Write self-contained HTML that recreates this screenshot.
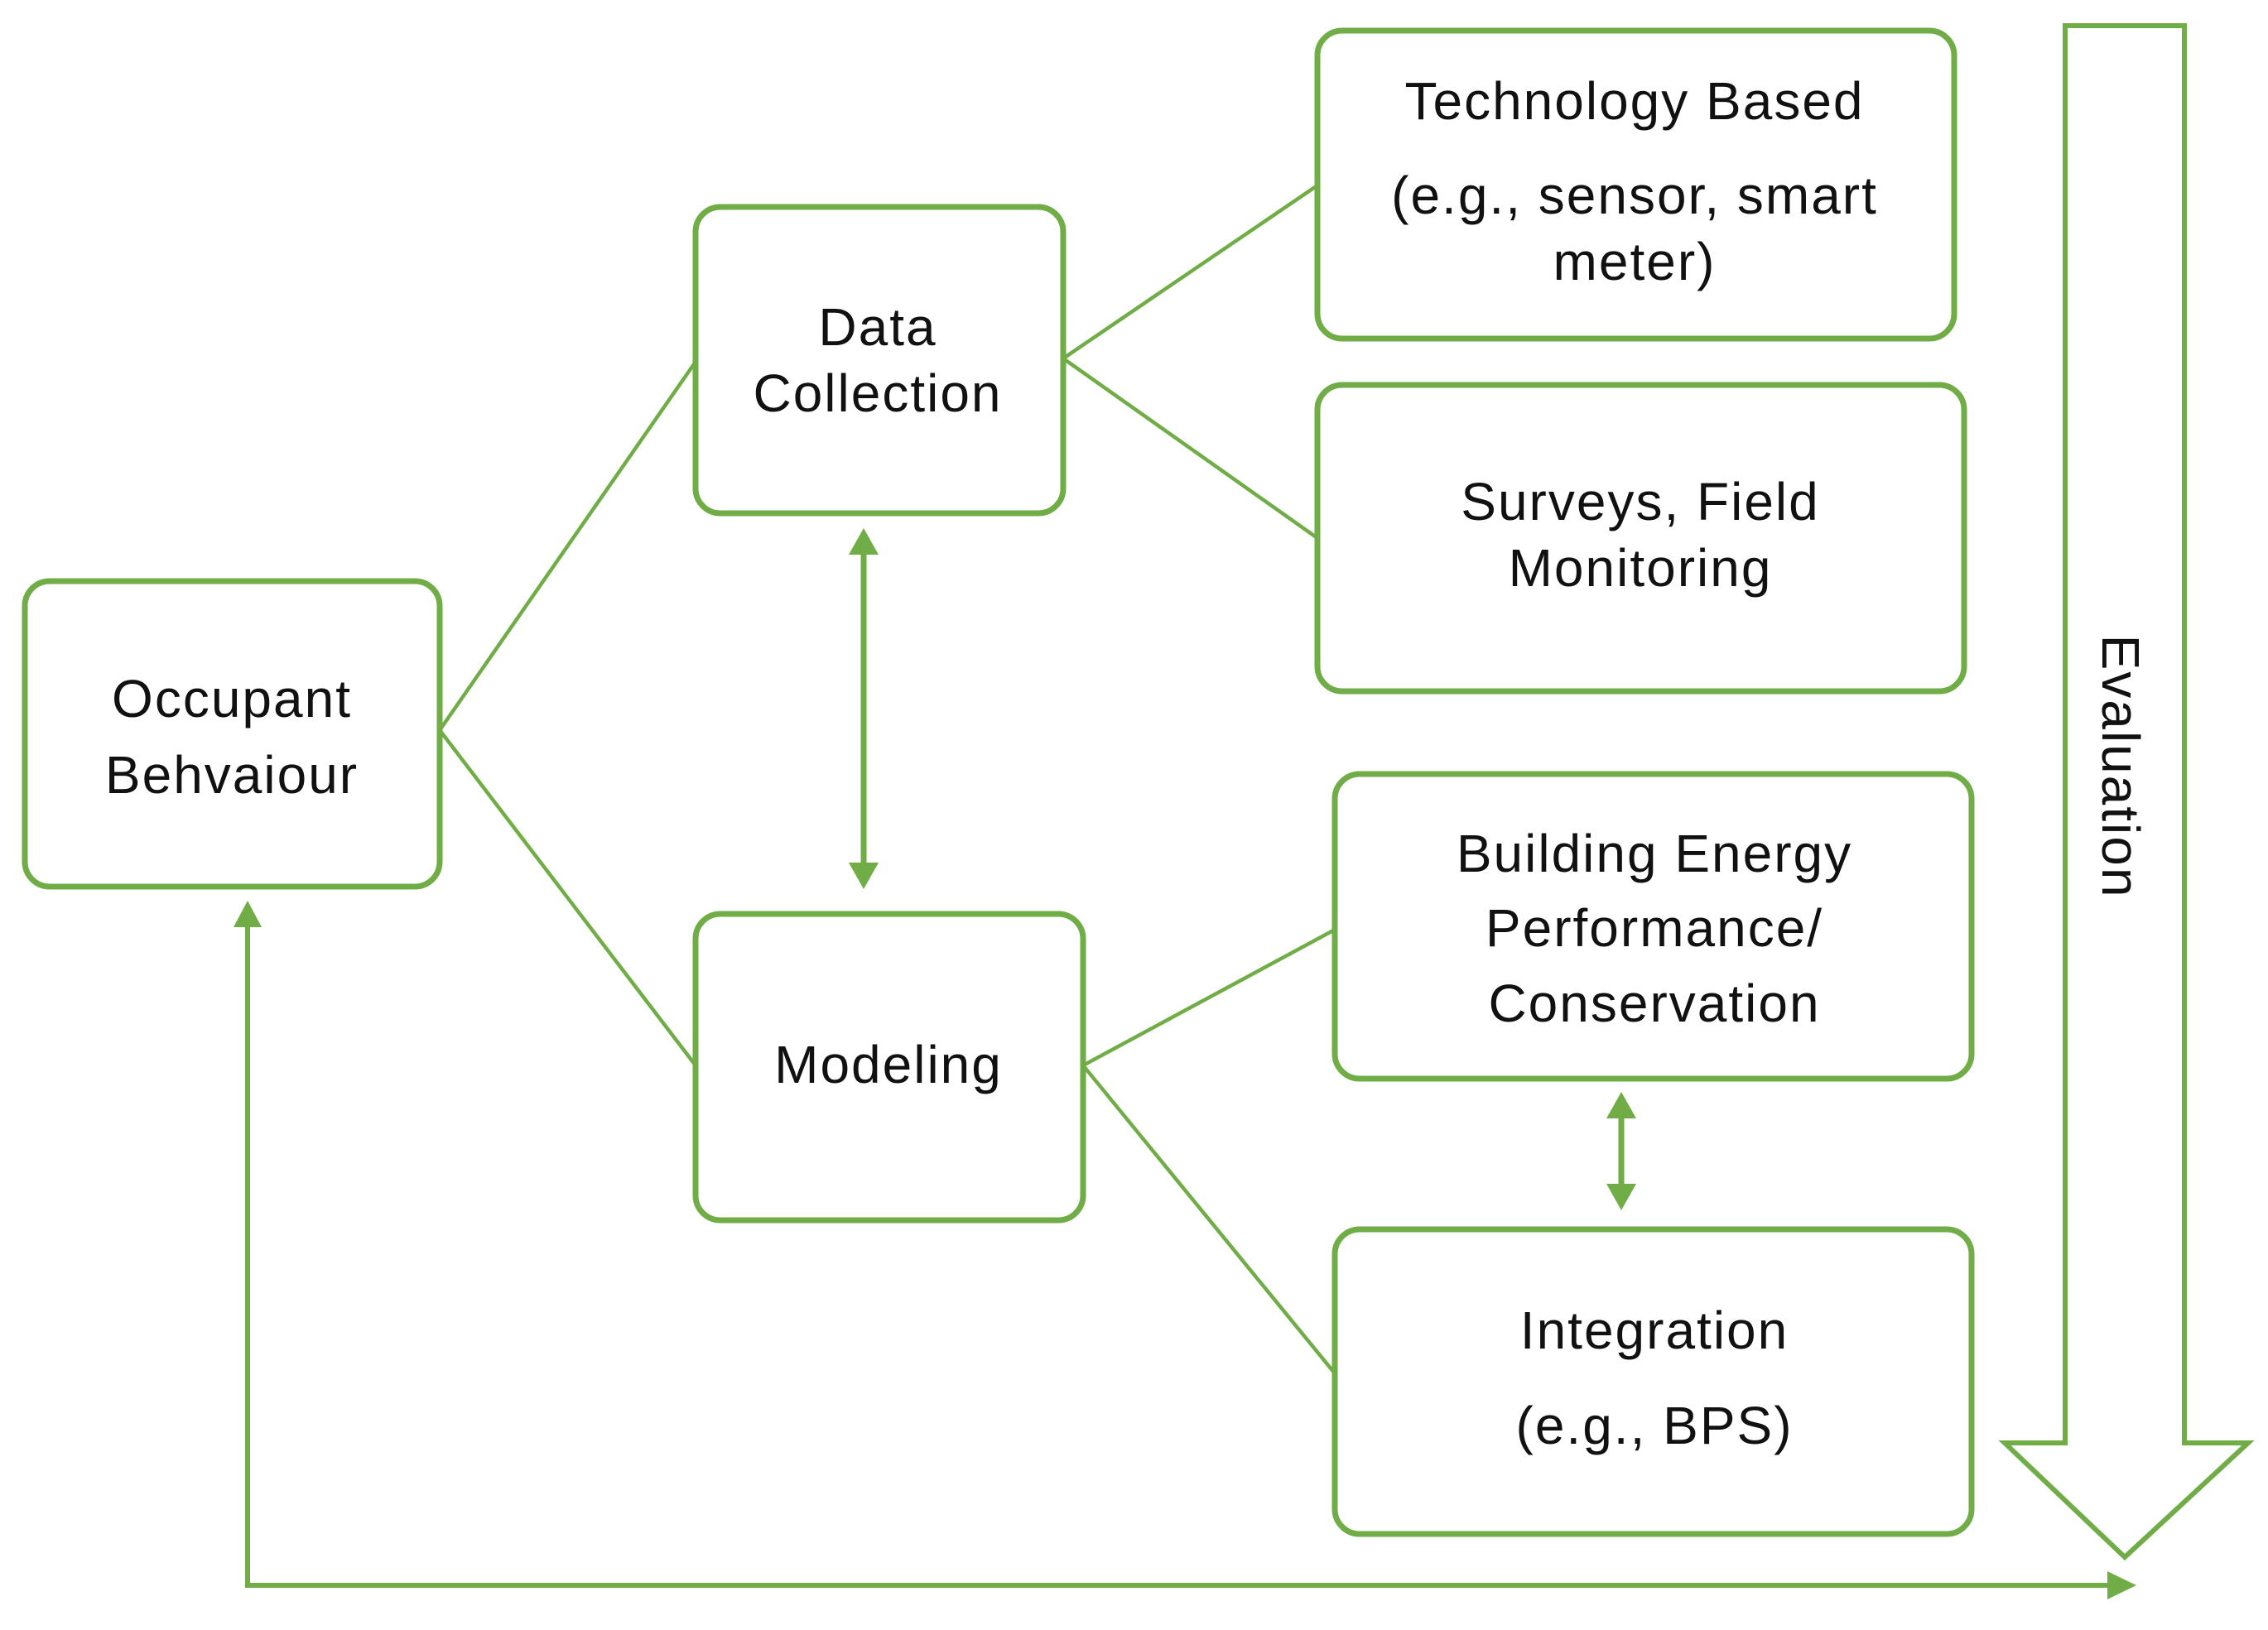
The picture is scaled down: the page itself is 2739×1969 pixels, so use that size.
<!DOCTYPE html>
<html><head><meta charset="utf-8"><style>
html,body{margin:0;padding:0;background:#fff;}
svg{display:block;}
text{font-family:"Liberation Sans",sans-serif;font-size:64px;letter-spacing:2px;fill:#111;text-anchor:middle;dominant-baseline:central;}
</style></head><body>
<svg width="2739" height="1969" viewBox="0 0 2739 1969" xmlns="http://www.w3.org/2000/svg">
<g fill="none" stroke="#70ad47" stroke-width="4.5">
<line x1="531" y1="882" x2="840" y2="437"/>
<line x1="531" y1="882" x2="840" y2="1287"/>
<line x1="1284" y1="433" x2="1591" y2="224"/>
<line x1="1284" y1="433" x2="1591" y2="650"/>
<line x1="1308" y1="1287" x2="1612" y2="1123"/>
<line x1="1308" y1="1287" x2="1612" y2="1659"/>
</g>
<g fill="#fff" stroke="#70ad47" stroke-width="7">
<rect x="30" y="702" width="501" height="369" rx="30"/>
<rect x="840" y="250" width="444" height="370" rx="30"/>
<rect x="840" y="1104" width="468" height="370" rx="30"/>
<rect x="1591" y="37" width="769" height="372" rx="30"/>
<rect x="1591" y="465" width="781" height="370" rx="30"/>
<rect x="1612" y="935" width="769" height="368" rx="30"/>
<rect x="1612" y="1485" width="769" height="368" rx="30"/>
</g>
<polygon points="2494,31 2638,31 2638,1743 2715,1743 2566,1881 2421,1743 2494,1743" fill="#fff" stroke="#70ad47" stroke-width="6"/>
<text transform="translate(2561,926) rotate(90)">Evaluation</text>
<g stroke="#70ad47" stroke-width="7" fill="#70ad47">
<line x1="1043" y1="665" x2="1043" y2="1047"/>
<polygon points="1043,638 1025,670 1061,670" stroke="none"/>
<polygon points="1043,1074 1025,1042 1061,1042" stroke="none"/>
<line x1="1958" y1="1345" x2="1958" y2="1436"/>
<polygon points="1958,1319 1940,1351 1976,1351" stroke="none"/>
<polygon points="1958,1462 1940,1430 1976,1430" stroke="none"/>
</g>
<polyline points="299,1115 299,1915 2550,1915" fill="none" stroke="#70ad47" stroke-width="6"/>
<polygon points="299,1088 282,1120 316,1120" fill="#70ad47"/>
<polygon points="2580,1915 2545,1898 2545,1932" fill="#70ad47"/>
<text x="280" y="844">Occupant</text>
<text x="280" y="936">Behvaiour</text>
<text x="1060" y="395">Data</text>
<text x="1060" y="475">Collection</text>
<text x="1073" y="1286">Modeling</text>
<text x="1974" y="122">Technology Based</text>
<text x="1974" y="236">(e.g., sensor, smart</text>
<text x="1974" y="316">meter)</text>
<text x="1981" y="606">Surveys, Field</text>
<text x="1981" y="686">Monitoring</text>
<text x="1998" y="1031">Building Energy</text>
<text x="1998" y="1121">Performance/</text>
<text x="1998" y="1212">Conservation</text>
<text x="1998" y="1607">Integration</text>
<text x="1998" y="1722">(e.g., BPS)</text>
</svg>
</body></html>
